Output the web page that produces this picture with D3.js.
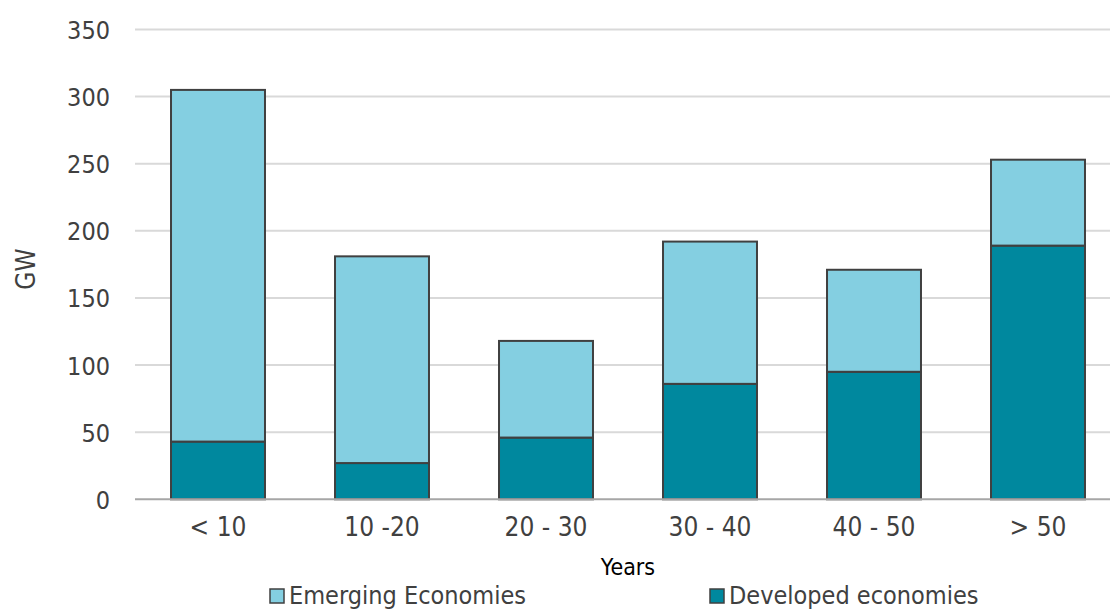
<!DOCTYPE html>
<html>
<head>
<meta charset="utf-8">
<script src="https://cdn.jsdelivr.net/npm/d3@7"></script>
<style>
  body { margin: 0; background: #fff; }
  svg text { font-family: "DejaVu Sans Condensed", "DejaVu Sans", sans-serif; font-stretch: condensed; }
</style>
</head>
<body>
<script>
// chart data
const categories = ['< 10', '10 -20', '20 - 30', '30 - 40', '40 - 50', '> 50'];
const developed = [43, 27, 46, 86, 95, 189];
const emerging = [262, 154, 72, 106, 76, 64];
const yTicks = [0, 50, 100, 150, 200, 250, 300, 350];
const seriesNames = ['Emerging Economies', 'Developed economies'];

const width = 1110, height = 610;
const colors = { developed: '#00889e', emerging: '#84cfe1' };
const font = '"DejaVu Sans Condensed", "DejaVu Sans", sans-serif';

const svg = d3.select('body')
  .append('svg')
  .attr('width', width)
  .attr('height', height);

// scales
const x = d3.scaleBand()
  .domain(categories)
  .range([136, 1120])
  .paddingInner(0.427)
  .paddingOuter(0.2135);

const y = d3.scaleLinear()
  .domain([0, 350])
  .range([499.3, 29.5]);

// gridlines
svg.append('g')
  .selectAll('line')
  .data(yTicks.filter(d => d > 0))
  .enter()
  .append('line')
  .attr('x1', 135)
  .attr('x2', width)
  .attr('y1', d => y(d))
  .attr('y2', d => y(d))
  .attr('stroke', '#d9d9d9')
  .attr('stroke-width', 2);

// y axis labels
const yAxis = d3.axisLeft(y).tickValues(yTicks).tickSize(0).tickPadding(0);
svg.append('g')
  .attr('transform', 'translate(110,0)')
  .call(yAxis)
  .call(g => g.select('.domain').remove())
  .call(g => g.selectAll('text')
    .attr('fill', '#404040')
    .attr('dy', '0.36em')
    .style('font-size', '25px')
    .style('font-family', font));

// stacked bars
const rows = categories.map((c, i) => ({ cat: c, developed: developed[i], emerging: emerging[i] }));
const stack = d3.stack().keys(['developed', 'emerging'])(rows);

svg.append('g')
  .selectAll('g')
  .data(stack)
  .enter()
  .append('g')
  .attr('fill', d => colors[d.key])
  .selectAll('rect')
  .data(d => d)
  .enter()
  .append('rect')
  .attr('x', d => x(d.data.cat))
  .attr('width', x.bandwidth())
  .attr('y', d => y(d[1]))
  .attr('height', d => y(d[0]) - y(d[1]))
  .attr('stroke', '#404040')
  .attr('stroke-width', 2);

// baseline
svg.append('line')
  .attr('x1', 135)
  .attr('x2', width)
  .attr('y1', y(0))
  .attr('y2', y(0))
  .attr('stroke', '#a6a6a6')
  .attr('stroke-width', 2);

// x axis labels
const xAxis = d3.axisBottom(x).tickSize(0).tickPadding(0);
svg.append('g')
  .attr('transform', `translate(0,${y(0) + 18})`)
  .call(xAxis)
  .call(g => g.select('.domain').remove())
  .call(g => g.selectAll('text')
    .attr('fill', '#404040')
    .style('font-size', '26px')
    .style('font-family', font));

// axis titles
svg.append('text')
  .attr('x', 628)
  .attr('y', 575)
  .attr('text-anchor', 'middle')
  .attr('fill', '#000')
  .style('font-size', '23px')
  .text('Years');

svg.append('text')
  .attr('transform', 'translate(35,269) rotate(-90)')
  .attr('text-anchor', 'middle')
  .attr('fill', '#404040')
  .style('font-size', '26px')
  .text('GW');

// legend
const legendX = [270, 710];
const legendColors = [colors.emerging, colors.developed];
const legend = svg.append('g')
  .selectAll('g')
  .data(seriesNames)
  .enter()
  .append('g')
  .attr('transform', (d, i) => `translate(${legendX[i]},589)`);

legend.append('rect')
  .attr('width', 14)
  .attr('height', 14)
  .attr('fill', (d, i) => legendColors[i])
  .attr('stroke', '#404040')
  .attr('stroke-width', 1.5);

legend.append('text')
  .attr('x', 19)
  .attr('y', 15)
  .attr('fill', '#404040')
  .style('font-size', '25px')
  .text(d => d);
</script>
</body>
</html>
